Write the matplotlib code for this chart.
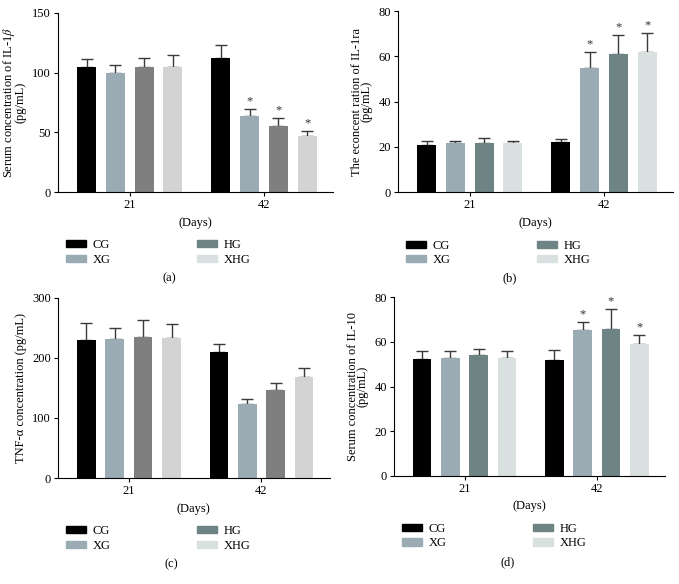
import numpy as np
import matplotlib
matplotlib.use('Agg')
import matplotlib.pyplot as plt
from matplotlib.patches import Patch

plt.rcParams['font.family'] = ['Liberation Serif', 'DejaVu Serif']
plt.rcParams['mathtext.fontset'] = 'stix'

# DATA
groups = ['CG', 'XG', 'HG', 'XHG']
days = ['21', '42']

il1b_mean = [[105, 100, 105, 105], [112, 64, 55, 47]]
il1b_err = [[6, 6.5, 7, 10], [11, 5.5, 7, 4]]
il1b_star = [[0, 0, 0, 0], [0, 1, 1, 1]]

il1ra_mean = [[21, 21.5, 21.5, 21.5], [22, 55, 61, 62]]
il1ra_err = [[1.4, 1, 2.3, 0.9], [1.6, 7, 8.5, 8.5]]
il1ra_star = [[0, 0, 0, 0], [0, 1, 1, 1]]

tnf_mean = [[229, 232, 234, 233], [209, 124, 147, 169]]
tnf_err = [[29, 18, 29, 23], [14, 8, 11, 15]]
tnf_star = [[0, 0, 0, 0], [0, 0, 0, 0]]

il10_mean = [[52.5, 53, 54, 53], [52, 65.5, 66, 59]]
il10_err = [[3.6, 3, 3, 3], [4.3, 3.6, 8.7, 4.3]]
il10_star = [[0, 0, 0, 0], [0, 1, 1, 1]]

gray_cols = ['#000000', '#9aabb3', '#7f7f7f', '#d3d3d3']
teal_cols = ['#000000', '#9aabb3', '#6e8484', '#d9e1e0']

FS = 9

fig = plt.figure(figsize=(6.79, 5.84), dpi=100)


def panel(rect, means, errs, stars, cols, ymax, ystep, ylabel, tag, lab_y, tag_x):
    ax = fig.add_axes(rect)
    centers = [0, 4.67]
    offs = [-1.5, -0.5, 0.5, 1.5]
    for d in range(2):
        for g in range(4):
            x = centers[d] + offs[g]
            ax.bar(x, means[d][g], width=0.66, color=cols[g], zorder=2)
            ax.errorbar(x, means[d][g], yerr=[[0], [errs[d][g]]], color='#3a3a3a',
                        capsize=4, elinewidth=1, capthick=1, zorder=1)
            if stars[d][g]:
                ax.text(x, means[d][g] + errs[d][g] + ymax * 0.008, '*',
                        ha='center', va='bottom', fontsize=FS, color='#333333')
    ax.set_xlim(-2.5, 7.07)
    ax.set_ylim(0, ymax)
    ax.set_yticks(np.arange(0, ymax + 1, ystep))
    ax.set_xticks(centers)
    ax.set_xticklabels(days)
    ax.tick_params(labelsize=FS, length=3, width=0.8, pad=2)
    for s in ['top', 'right']:
        ax.spines[s].set_visible(False)
    for s in ['left', 'bottom']:
        ax.spines[s].set_linewidth(0.8)
    ax.set_xlabel('(Days)', fontsize=FS, labelpad=4)
    ax.set_ylabel(ylabel, fontsize=FS, labelpad=4, linespacing=0.72)
    handles = [Patch(color=c) for c in teal_cols]
    ax.legend(handles, groups, loc='upper left', bbox_to_anchor=(0.01, lab_y),
              ncol=2, frameon=False, fontsize=FS, handlelength=1.6,
              handleheight=0.5, columnspacing=6.9, labelspacing=0.2,
              handletextpad=0.55, borderaxespad=0)
    fig.text(tag_x, rect[1] - 0.147, tag, ha='center', va='center', fontsize=FS)
    return ax


panel([0.0854, 0.671, 0.405, 0.307], il1b_mean, il1b_err, il1b_star, gray_cols,
      150, 50, 'Serum concentration of IL-1$\\beta$\n(pg/mL)', '(a)', -0.235, 0.25)
panel([0.586, 0.671, 0.405, 0.310], il1ra_mean, il1ra_err, il1ra_star, teal_cols,
      80, 20, 'The econcent ration of IL-1ra\n(pg/mL)', '(b)', -0.235, 0.751)
panel([0.0854, 0.1815, 0.400, 0.3085], tnf_mean, tnf_err, tnf_star, gray_cols,
      300, 100, 'TNF-\u03b1 concentration (pg/mL)', '(c)', -0.235, 0.253)
panel([0.580, 0.185, 0.399, 0.306], il10_mean, il10_err, il10_star, teal_cols,
      80, 20, 'Serum concentration of IL-10\n(pg/mL)', '(d)', -0.235, 0.747)

fig.savefig('out.png', dpi=100)
